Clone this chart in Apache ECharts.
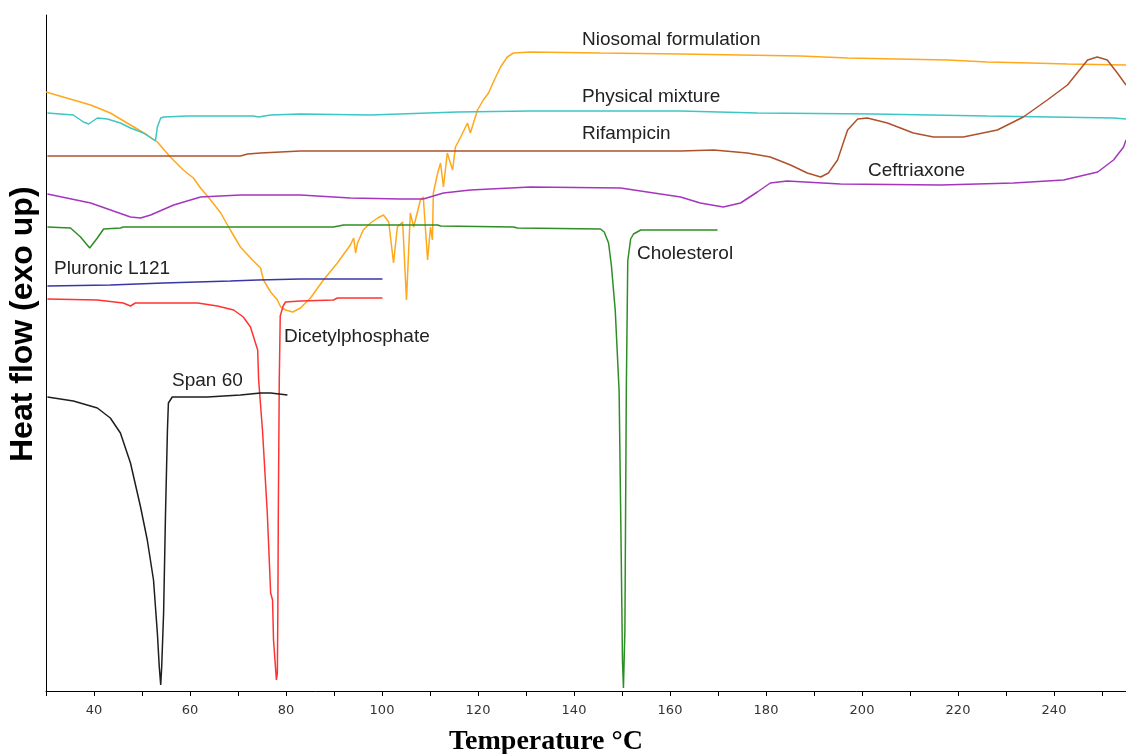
<!DOCTYPE html>
<html>
<head>
<meta charset="utf-8">
<title>DSC</title>
<script src="https://cdn.jsdelivr.net/npm/echarts@6/dist/echarts.min.js"></script>
<style>
  html, body { margin: 0; padding: 0; background: #fff; }
  #dsc { width: 1126px; height: 754px; }
</style>
</head>
<body>
<div id="dsc"></div>
<script>
// DSC curves, [temperature degC, heat flow (a.u., exo up)]
var niosomal = [[30,599],[39.3,586],[43.4,578],[47.6,566],[51.1,556],[53.2,549],[55.9,534],[58.6,521],[60.7,513],[62.2,503],[64.3,491],[66.4,478],[68.4,461],[70.5,444],[73,431],[74.7,423],[75.3,411],[76.8,399],[78.2,391],[78.9,384],[79.9,381],[81.4,379],[83,383],[85.1,393],[87.8,411],[90.7,428],[93.4,446],[94.1,453],[94.5,438],[94.9,448],[96.1,461],[97.6,468],[99.1,473],[100.3,476],[101.4,469],[102.4,428],[103.2,464],[104.3,469],[105.1,391],[105.9,478],[106.6,464],[108,491],[108.6,494],[109.5,431],[110.1,464],[110.5,451],[110.7,498],[111.6,518],[112.2,528],[112.8,504],[113.6,538],[114.7,521],[115.3,544],[116.4,554],[117.8,568],[118.4,558],[119.9,581],[121.1,591],[122.2,598],[123.2,609],[124.7,624],[126.1,634],[127.4,638],[130.9,639],[145.5,638],[162.2,637],[174.7,636],[187.2,635],[197,633],[207.4,632],[217.8,631],[226.1,629],[235.1,628],[242.8,627],[255,626]];
var physMix = [[30.3,578],[35.7,576],[37.8,569],[38.9,567],[40.7,573],[42.8,572],[45.5,568],[47.6,563],[50.3,558],[52.8,550],[53.2,564],[53.9,573],[54.5,574],[59.5,575],[73.2,575],[74.3,574],[76.8,576],[83,577],[97.6,576],[115.7,579],[130.9,580],[162.2,580],[178.2,578],[202.4,577],[226.1,575],[252.4,573],[255,572]];
var rifampicin = [[30.3,535],[60.7,535],[70.5,535],[70.9,534],[72,537],[74.7,538],[83,540],[97.6,540],[162.2,540],[169.1,541],[176.1,538],[180.9,534],[185.1,526],[188.6,518],[191.4,514],[193,518],[194.9,531],[197,561],[199.1,572],[201.1,573],[205.3,568],[210.7,558],[214.9,554],[221.1,554],[228.2,561],[233.6,574],[238.6,591],[242.8,606],[247,631],[249,634],[251.1,631],[253.2,618],[255,606]];
var ceftriaxone = [[30.3,497],[39.3,488],[47.6,474],[49.7,473],[51.8,476],[56.6,486],[62.2,494],[70.5,496],[83,496],[93.4,493],[103.9,492],[108.6,492],[112.8,498],[118.4,501],[130.9,504],[149.7,503],[162.2,494],[166.3,488],[171.1,484],[174.7,488],[178.2,499],[180.9,508],[184.4,510],[195.5,507],[216.4,506],[231.6,508],[242,511],[249.1,519],[252.4,531],[254.5,544],[255,551]];
var cholesterol = [[30.3,464],[35.1,463],[37.2,454],[39.1,443],[40.7,453],[42,462],[45.5,463],[46.1,464],[89.9,464],[92,466],[111.6,466],[112.2,465],[127.4,464],[128.2,463],[145.5,462],[146.3,459],[147.2,448],[147.8,425],[148.6,380],[149.4,300],[149.8,150],[150.1,30],[150.3,3],[150.6,60],[150.9,300],[151.2,430],[151.8,452],[152.4,457],[153.9,461],[169.9,461]];
var pluronic = [[30.3,405],[43.4,406],[54.5,408],[68.4,410],[74.1,411],[83,412],[100.1,412]];
var dicetyl = [[30.3,392],[40.7,391],[46.1,388],[47.6,385],[48.6,388],[61.6,388],[65.7,385],[69.1,381],[71.1,374],[72.6,364],[74.1,341],[74.3,311],[75.1,261],[76.1,178],[76.8,98],[77.2,91],[77.4,51],[78,11],[78.2,18],[78.3,78],[78.4,178],[78.6,311],[78.8,375],[79.4,385],[79.9,389],[83,390],[89.9,391],[90.7,393],[100.1,393]];
var span60 = [[30.3,294],[35.7,290],[40.7,283],[43.4,273],[45.5,258],[47.6,228],[49.7,184],[51.1,151],[52.4,111],[53.2,58],[53.6,24],[53.9,6],[54.1,24],[54.5,78],[54.9,178],[55.3,261],[55.5,288],[56.3,294],[63.6,294],[70.5,296],[74.7,298],[76.8,298],[80.3,296]];

var seriesNames = ['Niosomal formulation','Physical mixture','Rifampicin','Ceftriaxone','Cholesterol','Pluronic L121','Dicetylphosphate','Span 60'];
var seriesData = [niosomal, physMix, rifampicin, ceftriaxone, cholesterol, pluronic, dicetyl, span60];
var seriesColors = ['#FFA81C','#3CC6C6','#AE522C','#A535BE','#2E8E25','#3737A8','#FF3333','#1E1E1E'];

// curve labels (pixel positions on the figure)
var curveLabels = [
    ['Niosomal formulation', 582, 41],
    ['Physical mixture', 582, 98],
    ['Rifampicin', 582, 135],
    ['Ceftriaxone', 868, 172],
    ['Cholesterol', 637, 255],
    ['Pluronic L121', 54, 270],
    ['Dicetylphosphate', 284, 338],
    ['Span 60', 172, 382]
];

var myChart = echarts.init(document.getElementById('dsc'));

var series = [];
for (var i = 0; i < seriesData.length; i++) {
    series.push({
        name: seriesNames[i],
        type: 'line',
        data: seriesData[i],
        showSymbol: false,
        smooth: false,
        lineStyle: { color: seriesColors[i], width: 1.5 },
        itemStyle: { color: seriesColors[i] }
    });
}

var graphics = [];
for (var j = 0; j < curveLabels.length; j++) {
    graphics.push({
        type: 'text',
        left: curveLabels[j][1],
        top: curveLabels[j][2] - 11,
        style: {
            text: curveLabels[j][0],
            fill: '#222',
            font: '19px "Liberation Sans", Arial, sans-serif'
        }
    });
}
// axis titles
graphics.push({
    type: 'text',
    left: 449,
    top: 728,
    style: { text: 'Temperature °C', fill: '#000', font: 'bold 28px "Liberation Serif", "Times New Roman", serif' }
});
graphics.push({
    type: 'text',
    x: 7,
    y: 462,
    rotation: Math.PI / 2,
    style: { text: 'Heat flow (exo up)', fill: '#000', font: 'bold 32px "Liberation Sans", Arial, sans-serif' }
});

var option = {
    animation: false,
    backgroundColor: '#fff',
    grid: { left: 46, right: 0, top: 15, bottom: 63 },
    xAxis: {
        type: 'value',
        min: 30,
        max: 255,
        interval: 10,
        axisLine: { lineStyle: { color: '#000', width: 1 } },
        axisTick: { length: 5, lineStyle: { color: '#000' } },
        splitLine: { show: false },
        axisLabel: {
            color: '#333',
            fontSize: 13,
            fontFamily: 'DejaVu Sans, sans-serif',
            margin: 13,
            showMaxLabel: false,
            formatter: function (v) {
                return (v % 20 === 0 && v >= 40) ? String(v) : '';
            }
        }
    },
    yAxis: {
        type: 'value',
        min: 0,
        max: 676,
        axisLine: { show: true, lineStyle: { color: '#000', width: 1 } },
        axisTick: { show: false },
        axisLabel: { show: false },
        splitLine: { show: false }
    },
    series: series,
    graphic: graphics
};

myChart.setOption(option);
</script>
</body>
</html>
